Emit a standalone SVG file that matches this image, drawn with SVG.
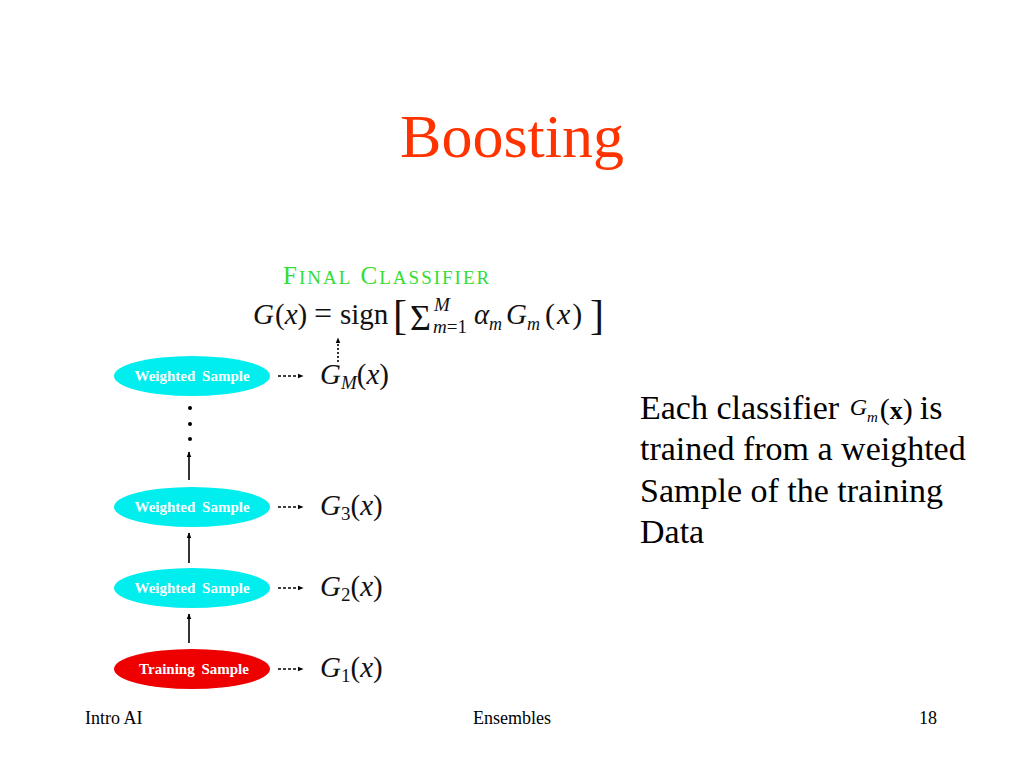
<svg xmlns="http://www.w3.org/2000/svg" width="1024" height="768" viewBox="0 0 1024 768">
<style>
.serif{font-family:"Liberation Serif","Times New Roman",serif}
.math{font-family:"Liberation Serif","Times New Roman",serif;font-style:italic}
.up{font-family:"Liberation Serif","Times New Roman",serif}
.lbl{font-family:"Liberation Serif",serif;font-weight:bold;font-size:15px;fill:#ffffff;word-spacing:3px}
.conn{stroke:#000;stroke-width:1.6;fill:none}
.dash{stroke-dasharray:3 2}
</style>
<defs>
<marker id="ah" viewBox="0 0 10 10" refX="9" refY="5" markerWidth="6" markerHeight="6" orient="auto" markerUnits="userSpaceOnUse">
<path d="M0,1 L10,5 L0,9 z" fill="#000"/>
</marker>
</defs>
<rect width="1024" height="768" fill="#ffffff"/>
<text class="serif" x="512" y="157" text-anchor="middle" font-size="62" fill="#ff3300">Boosting</text>

<g id="final">
<text class="serif" x="283" y="284" fill="#33dd33" font-size="25" letter-spacing="2">F<tspan font-size="19">INAL</tspan> C<tspan font-size="19">LASSIFIER</tspan></text>
<g fill="#111" font-size="29">
<text x="253" y="324"><tspan class="math">G</tspan><tspan class="up" dx="1">(</tspan><tspan class="math">x</tspan><tspan class="up">)</tspan></text>
<text class="up" x="314" y="324" font-size="32">=</text>
<text class="up" x="340" y="324">sign</text>
<text class="up" x="393" y="329" font-size="42">[</text>
<text class="up" x="410" y="330" font-size="36">Σ</text>
<text class="math" x="434" y="311" font-size="19">M</text>
<text x="433" y="333" font-size="19"><tspan class="math">m</tspan><tspan class="up">=1</tspan></text>
<text class="math" x="474" y="324">α</text>
<text class="math" x="489" y="330" font-size="18">m</text>
<text class="math" x="506" y="324">G</text>
<text class="math" x="527" y="330" font-size="18">m</text>
<text class="up" x="545" y="324" font-size="30">(<tspan class="math" dx="2">x</tspan><tspan dx="2">)</tspan></text>
<text class="up" x="590" y="329" font-size="42">]</text>
</g>
</g>

<g id="nodeM">
<ellipse cx="192" cy="376" rx="78" ry="20" fill="#00eeee"/>
<text class="lbl" x="192" y="381" text-anchor="middle">Weighted Sample</text>
<text x="320" y="384" font-size="29" fill="#111"><tspan class="math">G</tspan><tspan class="math" font-size="19" dy="5">M</tspan><tspan class="up" dy="-5">(</tspan><tspan class="math">x</tspan><tspan class="up">)</tspan></text>
</g>
<g id="dots">
<circle cx="190" cy="408" r="2" fill="#000"/>
<circle cx="190" cy="424" r="2" fill="#000"/>
<circle cx="190" cy="439" r="2" fill="#000"/>
</g>
<g id="node3">
<ellipse cx="192" cy="507" rx="78" ry="20" fill="#00eeee"/>
<text class="lbl" x="192" y="512" text-anchor="middle">Weighted Sample</text>
<text x="320" y="515" font-size="29" fill="#111"><tspan class="math">G</tspan><tspan class="up" font-size="19" dy="5">3</tspan><tspan class="up" dy="-5">(</tspan><tspan class="math">x</tspan><tspan class="up">)</tspan></text>
</g>
<g id="node2">
<ellipse cx="192" cy="588" rx="78" ry="20" fill="#00eeee"/>
<text class="lbl" x="192" y="593" text-anchor="middle">Weighted Sample</text>
<text x="320" y="596" font-size="29" fill="#111"><tspan class="math">G</tspan><tspan class="up" font-size="19" dy="5">2</tspan><tspan class="up" dy="-5">(</tspan><tspan class="math">x</tspan><tspan class="up">)</tspan></text>
</g>
<g id="node1">
<ellipse cx="192" cy="669" rx="78" ry="20" fill="#ee0000"/>
<text class="lbl" x="194" y="674" text-anchor="middle">Training Sample</text>
<text x="320" y="677" font-size="29" fill="#111"><tspan class="math">G</tspan><tspan class="up" font-size="19" dy="5">1</tspan><tspan class="up" dy="-5">(</tspan><tspan class="math">x</tspan><tspan class="up">)</tspan></text>
</g>

<g id="connectors">
<line class="conn" x1="189" y1="480" x2="189" y2="452" marker-end="url(#ah)"/>
<line class="conn" x1="189" y1="563" x2="189" y2="533" marker-end="url(#ah)"/>
<line class="conn" x1="189" y1="643" x2="189" y2="614" marker-end="url(#ah)"/>
<line class="conn dash" x1="278" y1="376" x2="303" y2="376" marker-end="url(#ah)"/>
<line class="conn dash" x1="278" y1="507" x2="303" y2="507" marker-end="url(#ah)"/>
<line class="conn dash" x1="278" y1="588" x2="303" y2="588" marker-end="url(#ah)"/>
<line class="conn dash" x1="278" y1="669" x2="303" y2="669" marker-end="url(#ah)"/>
<line class="conn" stroke-dasharray="2 2" x1="338" y1="362" x2="338" y2="338" marker-end="url(#ah)"/>
</g>

<g id="note" class="serif" font-size="34" fill="#000">
<text x="640" y="419">Each classifier <tspan font-style="italic" font-size="24" dy="-4" dx="2">G</tspan><tspan font-style="italic" font-size="15" dy="7">m</tspan><tspan font-size="30" dy="-3" dx="2">(</tspan><tspan font-size="26" font-weight="bold">x</tspan><tspan font-size="30">)</tspan><tspan dx="7">is</tspan></text>
<text x="640" y="460">trained from a weighted</text>
<text x="640" y="502">Sample of the training</text>
<text x="640" y="543">Data</text>
</g>

<g id="footer" class="serif" font-size="18" fill="#000">
<text x="85" y="724">Intro AI</text>
<text x="512" y="724" text-anchor="middle">Ensembles</text>
<text x="937" y="724" text-anchor="end">18</text>
</g>
</svg>
